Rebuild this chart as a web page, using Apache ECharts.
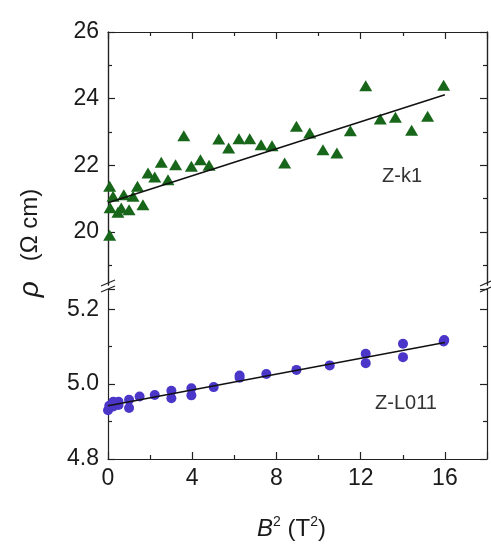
<!DOCTYPE html>
<html>
<head>
<meta charset="utf-8">
<script src="https://cdn.jsdelivr.net/npm/echarts@6/dist/echarts.min.js"></script>
<style>
  html, body { margin: 0; padding: 0; background: #fff; }
  #chart { width: 491px; height: 545px; }
</style>
</head>
<body>
<div id="chart"></div>
<script>
// Z-k1 (top panel), B^2 in T^2 and rho in ohm cm
const kX = [0.08, 0.08, 0.24, 0.1, 0.47, 0.75, 0.63, 1.0, 1.19, 1.4, 1.66, 1.9, 2.22, 2.53, 2.85, 3.21, 3.6, 3.96, 4.39, 4.8,
  5.26, 5.73, 6.22, 6.73, 7.27, 7.79, 8.39, 8.95, 9.58, 10.21, 10.87, 11.51, 12.24, 12.93, 13.65, 14.42, 15.18, 15.94]
const kRho = [21.37, 19.9, 21.07, 20.73, 20.59, 21.12, 20.72, 20.67, 21.07, 21.37, 20.82, 21.77, 21.65, 22.09, 21.57, 22.02, 22.89, 21.97, 22.17, 22.0,
  22.79, 22.52, 22.8, 22.8, 22.62, 22.59, 22.07, 23.17, 22.97, 22.47, 22.37, 23.04, 24.39, 23.39, 23.44, 23.05, 23.47, 24.4]

// Z-L011 (bottom panel)
const lX = [0.0, 0.06, 0.25, 0.25, 0.5, 0.5, 1.0, 1.0, 1.5, 2.22, 3.01, 3.01, 3.96, 3.96, 5.02, 6.25, 6.25, 7.52, 8.95, 10.53,
  12.24, 12.24, 14.01, 14.01, 15.94, 15.97]
const lRho = [4.93, 4.942, 4.953, 4.94, 4.953, 4.944, 4.958, 4.936, 4.967, 4.971, 4.982, 4.962, 4.989, 4.970, 4.992, 5.023, 5.017, 5.027, 5.038, 5.050,
  5.081, 5.056, 5.108, 5.072, 5.114, 5.118]

// linear fits
const fitX = [0, 16]
const fitK = [20.88, 24.12]
const fitL = [4.942, 5.111]

// tick labels
const xTicks = [0, 4, 8, 12, 16]
const topMajor = [20, 22, 24, 26]
const topMinor = [19, 21, 23, 25]

const pairs = (xs, ys) => xs.map((x, i) => [x, ys[i]])

const font = 'Liberation Sans'
const txt = '#1a1a1a'
const ink = '#222'

const chart = echarts.init(document.getElementById('chart'))

const frame = { show: true, lineStyle: { color: ink, width: 1.2 } }
const tickIn = { show: true, inside: true, length: 7, lineStyle: { color: ink, width: 1.2 } }
const minorIn = { show: true, length: 4, splitNumber: 2, lineStyle: { color: ink, width: 1.2 } }

const xBase = {
  type: 'value', min: 0, max: 18, interval: 4,
  axisLine: frame, axisTick: tickIn, minorTick: minorIn, splitLine: { show: false }
}
const yBase = {
  type: 'value', axisLine: frame, axisTick: tickIn, minorTick: minorIn, splitLine: { show: false }
}
const topRange = { gridIndex: 0, min: 18.41, max: 26 }
const botRange = { gridIndex: 1, min: 4.8, max: 5.254, interval: 0.2 }

// top panel axis with fixed tick values (range does not start on a tick)
function topAxis(pos, vals, len, withLabels) {
  return Object.assign({}, topRange, {
    type: 'value', position: pos,
    axisLine: frame, splitLine: { show: false }, minorTick: { show: false },
    axisTick: { show: true, inside: true, length: len, customValues: vals, lineStyle: { color: ink, width: 1.2 } },
    axisLabel: withLabels
      ? { fontFamily: font, fontSize: 23, color: txt, margin: 9, customValues: vals }
      : { show: false }
  })
}

chart.setOption({
  animation: false,
  grid: [
    { left: 108, right: 4, top: 32, height: 253 },
    { left: 108, right: 4, top: 289, height: 170 }
  ],
  xAxis: [
    Object.assign({}, xBase, { gridIndex: 0, position: 'top', axisLabel: { show: false } }),
    Object.assign({}, xBase, {
      gridIndex: 1, position: 'bottom',
      axisLabel: {
        fontFamily: font, fontSize: 23, color: txt, margin: 8,
        formatter: v => xTicks.includes(v) ? String(v) : ''
      },
      name: '{i|B}{s|2} (T{s|2})', nameLocation: 'middle', nameGap: 56,
      nameTextStyle: {
        fontFamily: font, fontSize: 24, color: txt, lineHeight: 28, padding: [0, 12, 0, 0],
        rich: {
          i: { fontFamily: font, fontSize: 24, fontStyle: 'italic', color: txt, lineHeight: 28 },
          s: { fontFamily: font, fontSize: 14, color: txt, verticalAlign: 'top', lineHeight: 14 }
        }
      }
    })
  ],
  yAxis: [
    topAxis('left', topMajor, 7, true),
    topAxis('left', topMinor, 4, false),
    topAxis('right', topMajor, 7, false),
    topAxis('right', topMinor, 4, false),
    Object.assign({}, yBase, botRange, {
      axisLabel: { fontFamily: font, fontSize: 23, color: txt, margin: 9, formatter: v => v.toFixed(1), showMaxLabel: false }
    }),
    Object.assign({}, yBase, botRange, { position: 'right', axisLabel: { show: false } })
  ],
  series: [
    {
      type: 'scatter', xAxisIndex: 0, yAxisIndex: 0, data: pairs(kX, kRho),
      symbol: 'triangle', symbolSize: [13, 11], itemStyle: { color: '#17661a', opacity: 1 }
    },
    {
      type: 'line', xAxisIndex: 0, yAxisIndex: 0, data: pairs(fitX, fitK),
      symbol: 'none', lineStyle: { color: '#111', width: 1.6 }
    },
    {
      type: 'scatter', xAxisIndex: 1, yAxisIndex: 4, data: pairs(lX, lRho),
      symbol: 'circle', symbolSize: 10, itemStyle: { color: '#4a36c8', opacity: 1 }
    },
    {
      type: 'line', xAxisIndex: 1, yAxisIndex: 4, data: pairs(fitX, fitL),
      symbol: 'none', lineStyle: { color: '#111', width: 1.6 }
    }
  ],
  graphic: [
    // axis break marks
    { type: 'rect', shape: { x: 103, y: 284, width: 10, height: 6 }, style: { fill: '#fff' } },
    { type: 'line', shape: { x1: 101, y1: 286, x2: 115, y2: 280 }, style: { stroke: ink, lineWidth: 1.2 } },
    { type: 'line', shape: { x1: 101, y1: 292, x2: 115, y2: 286 }, style: { stroke: ink, lineWidth: 1.2 } },
    { type: 'rect', shape: { x: 482, y: 284, width: 10, height: 6 }, style: { fill: '#fff' } },
    { type: 'line', shape: { x1: 480, y1: 286, x2: 491, y2: 281 }, style: { stroke: ink, lineWidth: 1.2 } },
    { type: 'line', shape: { x1: 480, y1: 292, x2: 491, y2: 287 }, style: { stroke: ink, lineWidth: 1.2 } },
    // sample labels
    { type: 'text', x: 402, y: 176, style: { text: 'Z-k1', font: '20px "Liberation Sans"', fill: '#333', align: 'center', verticalAlign: 'middle' } },
    { type: 'text', x: 406, y: 403, style: { text: 'Z-L011', font: '20px "Liberation Sans"', fill: '#333', align: 'center', verticalAlign: 'middle' } },
    // y-axis title
    {
      type: 'text', x: 30, y: 243, rotation: Math.PI / 2,
      style: {
        text: '{r|ρ}   (Ω cm)', fill: txt, font: '24px "Liberation Sans"', align: 'center', verticalAlign: 'middle',
        rich: { r: { fontFamily: font, fontSize: 28, fontStyle: 'italic', fill: txt } }
      }
    }
  ]
})
window.addEventListener('resize', () => chart.resize())
</script>
</body>
</html>
